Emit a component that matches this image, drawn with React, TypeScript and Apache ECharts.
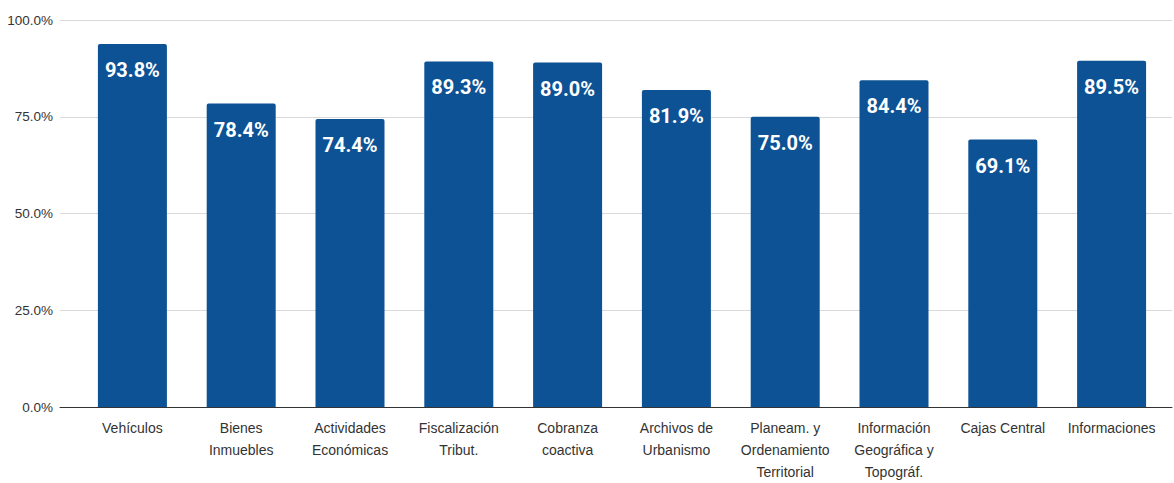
import React, { useEffect, useRef } from "react";
import * as echarts from "echarts";

const categories = [
  "Vehículos",
  "Bienes\nInmuebles",
  "Actividades\nEconómicas",
  "Fiscalización\nTribut.",
  "Cobranza\ncoactiva",
  "Archivos de\nUrbanismo",
  "Planeam. y\nOrdenamiento\nTerritorial",
  "Información\nGeográfica y\nTopográf.",
  "Cajas Central",
  "Informaciones",
];
const values = [93.8, 78.4, 74.4, 89.3, 89.0, 81.9, 75.0, 84.4, 69.1, 89.5];

export default function App() {
  const ref = useRef<HTMLDivElement>(null);
  useEffect(() => {
    if (!ref.current) return;
    const chart = echarts.init(ref.current, null, { renderer: "svg" });
    const font = "'Liberation Sans', Arial, sans-serif";
    chart.setOption({
      animation: false,
      grid: [
        { left: 60, right: 2, top: 20, bottom: 76 },
        { left: 78, right: 8, top: 20, bottom: 76 },
      ],
      xAxis: [
        {
          gridIndex: 0,
          type: "value",
          min: 0,
          max: 1,
          axisLabel: { show: false },
          axisTick: { show: false },
          splitLine: { show: false },
          axisLine: { show: true, lineStyle: { color: "#333", width: 1 } },
        },
        {
          gridIndex: 1,
          type: "category",
          data: categories,
          axisTick: { show: false },
          axisLine: { show: false },
          axisLabel: {
            color: "#333",
            fontSize: 14,
            lineHeight: 22,
            margin: 10,
            fontFamily: font,
            interval: 0,
          },
        },
      ],
      yAxis: [
        {
          gridIndex: 0,
          type: "value",
          min: 0,
          max: 100,
          interval: 25,
          axisLine: { show: false },
          axisTick: { show: false },
          axisLabel: {
            formatter: (v: number) => v.toFixed(1) + "%",
            color: "#333",
            fontSize: 13.5,
            margin: 7,
            fontFamily: font,
          },
          splitLine: { lineStyle: { color: "#d9d9d9", width: 1 } },
        },
        {
          gridIndex: 1,
          type: "value",
          min: 0,
          max: 100,
          interval: 25,
          show: false,
          splitLine: { show: false },
        },
      ],
      series: [
        {
          type: "bar",
          xAxisIndex: 1,
          yAxisIndex: 1,
          data: values,
          barWidth: 69,
          itemStyle: { color: "#0d5295", borderRadius: [2, 2, 0, 0] },
          label: {
            show: true,
            position: "insideTop",
            distance: 16,
            formatter: (p: any) => p.value.toFixed(1) + "%",
            color: "#fff",
            fontSize: 20,
            fontWeight: "bold",
            fontFamily: "Roboto, Arial, sans-serif",
          },
        },
      ],
    });
    return () => chart.dispose();
  }, []);
  return <div ref={ref} style={{ width: 1174, height: 483, position: "absolute", left: 0, top: 0 }} />;
}
